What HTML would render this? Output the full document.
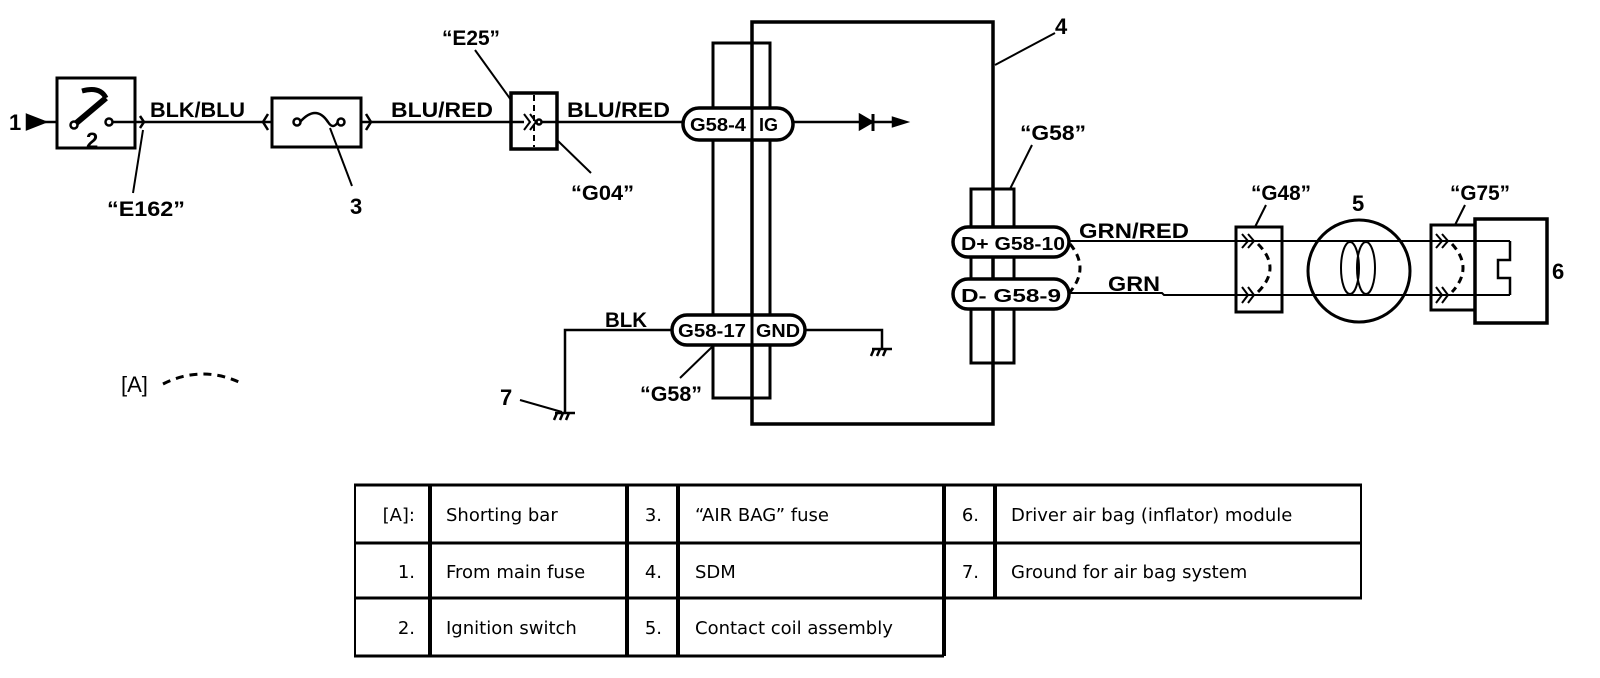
<!DOCTYPE html>
<html><head><meta charset="utf-8"><style>
html,body{margin:0;padding:0;background:#fff;}
svg{display:block}
.t{font-family:"Liberation Sans",Arial,sans-serif;font-weight:bold;font-size:21px;fill:#000}
.tb{font-family:"DejaVu Sans",Verdana,sans-serif;font-size:18px;fill:#000}
</style></head><body>
<svg width="1600" height="678" viewBox="0 0 1600 678" xmlns="http://www.w3.org/2000/svg">
<g fill="none" stroke="#000" stroke-width="2.5">
<path d="M27 115 L45 122 L27 129 Z" fill="#000"/>
<line x1="45" y1="122" x2="57" y2="122"/>
<rect x="57" y="78" width="78" height="70" stroke-width="3"/>
<line x1="74" y1="125" x2="106" y2="98" stroke-width="6"/>
<path d="M106 98 Q100 86 82 91" stroke-width="5"/>
<circle cx="74" cy="125" r="3.5" fill="#fff"/>
<circle cx="109" cy="122" r="3.5" fill="#fff"/>
<line x1="113" y1="122" x2="272" y2="122"/>
<path d="M140 116 L144 122 L140 128"/>
<line x1="143" y1="130" x2="133" y2="193" stroke-width="2"/>
<rect x="272" y="98" width="89" height="49" stroke-width="3"/>
<path d="M268 114 L263 122 L268 130 M366 114 L371 122 L366 130"/>
<circle cx="297" cy="122" r="3.5" fill="#fff"/>
<circle cx="341" cy="122" r="3.5" fill="#fff"/>
<path d="M300 122 Q316 104 328 122 Q333 130 338 122"/>
<line x1="330" y1="128" x2="352" y2="186" stroke-width="2"/>
<line x1="361" y1="122" x2="511" y2="122"/>
<rect x="511" y="93" width="46" height="56" stroke-width="3.5"/>
<line x1="534" y1="95" x2="534" y2="147" stroke-dasharray="6 4" stroke-width="2"/>
<path d="M524 114 L530 122 L524 130 M530 114 L536 122 L530 130" stroke-width="2"/>
<circle cx="539" cy="122" r="2.5" fill="#fff"/>
<line x1="511" y1="122" x2="524" y2="122"/>
<line x1="541" y1="122" x2="683" y2="122"/>
<line x1="475" y1="50" x2="511" y2="100" stroke-width="2"/>
<line x1="557" y1="140" x2="591" y2="173" stroke-width="2"/>
<rect x="752" y="22" width="241" height="402" stroke-width="3.5"/>
<line x1="995" y1="65" x2="1055" y2="33" stroke-width="2"/>
<rect x="713" y="43" width="57" height="355" stroke-width="3"/>
<rect x="683" y="108" width="110" height="32" rx="16" fill="#fff" stroke-width="3.5"/>
<line x1="752" y1="108" x2="752" y2="140" stroke-width="3"/>
<line x1="793" y1="122" x2="905" y2="122"/>
<path d="M860 115 L872 122 L860 129 Z" fill="#000"/>
<line x1="873" y1="114" x2="873" y2="131" stroke-width="3"/>
<path d="M893 118 L906 122 L893 126 Z" fill="#000"/>
<rect x="672" y="315" width="133" height="30" rx="15" fill="#fff" stroke-width="3.5"/>
<line x1="752" y1="315" x2="752" y2="345" stroke-width="3"/>
<polyline points="805,330 882,330 882,348"/>
<path d="M872 349 L892 349 M874 349 L871 356 M880 349 L877 356 M886 349 L883 356" stroke-width="2.5"/>
<polyline points="672,330 565,330 565,413"/>
<path d="M555 413 L575 413 M557 413 L554 420 M563 413 L560 420 M569 413 L566 420" stroke-width="2.5"/>
<line x1="520" y1="400" x2="562" y2="412" stroke-width="2"/>
<line x1="680" y1="378" x2="712" y2="347" stroke-width="2"/>
<rect x="971" y="189" width="43" height="174" stroke-width="3"/>
<line x1="1032" y1="145" x2="1010" y2="189" stroke-width="2"/>
<rect x="953" y="227" width="116" height="30" rx="15" fill="#fff" stroke-width="3.5"/>
<rect x="953" y="279" width="116" height="30" rx="15" fill="#fff" stroke-width="3.5"/>
<path d="M1070 244 Q1090 268 1070 292" stroke-dasharray="7 5" stroke-width="3"/>
<line x1="1069" y1="241" x2="1510" y2="241" stroke-width="2"/>
<polyline points="1069,293 1162,293 1164,295 1510,295" stroke-width="2"/>
<rect x="1236" y="227" width="46" height="85" stroke-width="3"/>
<path d="M1242 234 L1248 241 L1242 248 M1248 234 L1254 241 L1248 248 M1242 287 L1248 295 L1242 303 M1248 287 L1254 295 L1248 303" stroke-width="2"/>
<path d="M1258 244 Q1282 268 1258 292" stroke-dasharray="7 5" stroke-width="3"/>
<line x1="1266" y1="205" x2="1255" y2="227" stroke-width="2"/>
<circle cx="1359" cy="271" r="51" stroke-width="3"/>
<ellipse cx="1350" cy="268" rx="9" ry="26" stroke-width="2"/>
<ellipse cx="1366" cy="268" rx="9" ry="26" stroke-width="2"/>
<rect x="1431" y="225" width="44" height="85" stroke-width="3"/>
<path d="M1436 234 L1442 241 L1436 248 M1442 234 L1448 241 L1442 248 M1436 287 L1442 295 L1436 303 M1442 287 L1448 295 L1442 303" stroke-width="2"/>
<path d="M1452 244 Q1474 268 1452 292" stroke-dasharray="7 5" stroke-width="3"/>
<line x1="1465" y1="205" x2="1455" y2="225" stroke-width="2"/>
<rect x="1475" y="219" width="72" height="104" stroke-width="3.5"/>
<polyline points="1510,241 1510,260 1498,260 1498,278 1510,278 1510,295" stroke-width="2.5"/>
<path d="M163 384 Q203 364 243 384" stroke-dasharray="8 6" stroke-width="3"/>
</g>
<g class="t">
<text x="9" y="130" font-size="22">1</text>
<text x="86" y="148" font-size="22">2</text>
<text x="150" y="117" textLength="95" lengthAdjust="spacingAndGlyphs">BLK/BLU</text>
<text x="107" y="216" textLength="78" lengthAdjust="spacingAndGlyphs">“E162”</text>
<text x="350" y="214" font-size="22">3</text>
<text x="391" y="117" textLength="102" lengthAdjust="spacingAndGlyphs">BLU/RED</text>
<text x="442" y="45" textLength="58" lengthAdjust="spacingAndGlyphs">“E25”</text>
<text x="571" y="200" textLength="63" lengthAdjust="spacingAndGlyphs">“G04”</text>
<text x="567" y="117" textLength="103" lengthAdjust="spacingAndGlyphs">BLU/RED</text>
<text x="690" y="131" font-size="18" textLength="56" lengthAdjust="spacingAndGlyphs">G58-4</text>
<text x="759" y="131" font-size="18">IG</text>
<text x="678" y="337" font-size="18" textLength="68" lengthAdjust="spacingAndGlyphs">G58-17</text>
<text x="756" y="337" font-size="18" textLength="44" lengthAdjust="spacingAndGlyphs">GND</text>
<text x="605" y="327" textLength="42" lengthAdjust="spacingAndGlyphs">BLK</text>
<text x="500" y="405" font-size="22">7</text>
<text x="640" y="401" textLength="62" lengthAdjust="spacingAndGlyphs">“G58”</text>
<text x="1055" y="34" font-size="22">4</text>
<text x="1020" y="140" textLength="66" lengthAdjust="spacingAndGlyphs">“G58”</text>
<text x="961" y="250" font-size="18" textLength="104" lengthAdjust="spacingAndGlyphs">D+  G58-10</text>
<text x="961" y="302" font-size="18" textLength="100" lengthAdjust="spacingAndGlyphs">D-   G58-9</text>
<text x="1079" y="238" textLength="110" lengthAdjust="spacingAndGlyphs">GRN/RED</text>
<text x="1108" y="291" textLength="52" lengthAdjust="spacingAndGlyphs">GRN</text>
<text x="1251" y="200" textLength="60" lengthAdjust="spacingAndGlyphs">“G48”</text>
<text x="1352" y="211" font-size="22">5</text>
<text x="1450" y="200" textLength="60" lengthAdjust="spacingAndGlyphs">“G75”</text>
<text x="1552" y="279" font-size="22">6</text>
<text x="121" y="392" font-size="22" font-weight="normal">[A]</text>
</g>
<g stroke="#000" fill="none">
<line x1="354" y1="485" x2="1362" y2="485" stroke-width="3"/>
<line x1="354" y1="543" x2="1362" y2="543" stroke-width="3"/>
<line x1="354" y1="598" x2="1362" y2="598" stroke-width="3"/>
<line x1="354" y1="656" x2="944" y2="656" stroke-width="3"/>
<line x1="355" y1="485" x2="355" y2="656" stroke-width="2"/>
<line x1="430" y1="485" x2="430" y2="656" stroke-width="4"/>
<line x1="627" y1="485" x2="627" y2="656" stroke-width="4"/>
<line x1="678" y1="485" x2="678" y2="656" stroke-width="4"/>
<line x1="944" y1="485" x2="944" y2="656" stroke-width="4"/>
<line x1="995" y1="485" x2="995" y2="598" stroke-width="4"/>
<line x1="1361" y1="485" x2="1361" y2="598" stroke-width="2"/>
</g>
<g class="tb">
<text x="415" y="521" text-anchor="end">[A]:</text>
<text x="446" y="521">Shorting bar</text>
<text x="662" y="521" text-anchor="end">3.</text>
<text x="695" y="521">“AIR BAG” fuse</text>
<text x="979" y="521" text-anchor="end">6.</text>
<text x="1011" y="521">Driver air bag (inflator) module</text>
<text x="415" y="578" text-anchor="end">1.</text>
<text x="446" y="578">From main fuse</text>
<text x="662" y="578" text-anchor="end">4.</text>
<text x="695" y="578">SDM</text>
<text x="979" y="578" text-anchor="end">7.</text>
<text x="1011" y="578">Ground for air bag system</text>
<text x="415" y="634" text-anchor="end">2.</text>
<text x="446" y="634">Ignition switch</text>
<text x="662" y="634" text-anchor="end">5.</text>
<text x="695" y="634">Contact coil assembly</text>
</g>
</svg>
</body></html>
